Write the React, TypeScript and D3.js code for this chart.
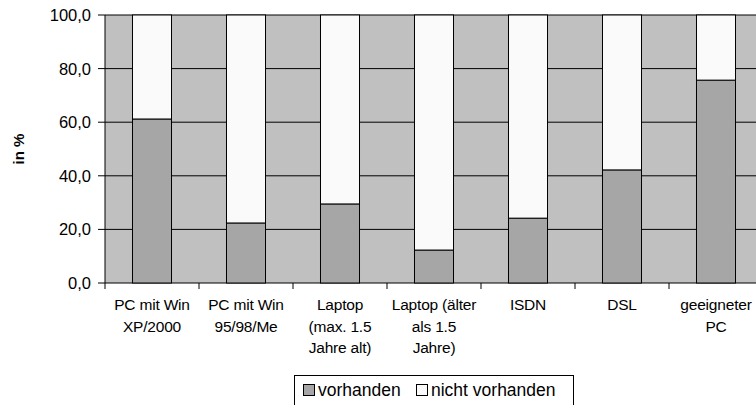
import React from 'react';
import * as d3 from 'd3';

const categories = [
  ['PC mit Win', 'XP/2000'],
  ['PC mit Win', '95/98/Me'],
  ['Laptop', '(max. 1.5', 'Jahre alt)'],
  ['Laptop (älter', 'als 1.5', 'Jahre)'],
  ['ISDN'],
  ['DSL'],
  ['geeigneter', 'PC'],
];
const vorhanden = [61.2, 22.4, 29.5, 12.3, 24.2, 42.2, 75.7];
const nichtVorhanden = vorhanden.map((v) => 100 - v);
const yTicks = [0, 20, 40, 60, 80, 100];

const W = 756;
const H = 405;
const left = 105;
const top = 15;
const bottom = 283;
const bandW = 94;

const App = () => {
  const x = d3
    .scaleBand<number>()
    .domain(categories.map((_, i) => i))
    .range([left, left + bandW * categories.length])
    .paddingInner(0.585)
    .paddingOuter(0.2925);
  const step = x.step();
  const y = d3.scaleLinear().domain([0, 100]).range([bottom, top]);
  const fmt = (v: number) => v.toFixed(1).replace('.', ',');
  const font = 'Liberation Sans, Arial, sans-serif';

  return (
    <svg width={W} height={H} style={{ position: 'absolute', left: 0, top: 0 }} fontFamily={font}>
      <rect x={0} y={0} width={W} height={H} fill="#fff" />
      <rect x={left} y={top} width={W - left} height={bottom - top} fill="#c0c0c0" />
      {yTicks.map((t) => (
        <g key={t}>
          <line x1={left - 7} x2={W} y1={y(t)} y2={y(t)} stroke="#000" strokeWidth={1} />
          <text x={91} y={y(t) + 6} textAnchor="end" fontSize={16.5}>
            {fmt(t)}
          </text>
        </g>
      ))}
      <line x1={left} x2={left} y1={top} y2={bottom} stroke="#000" />
      {categories.map((c, i) => {
        const bx = x(i)!;
        const cx = left + step * i + step / 2;
        return (
          <g key={i}>
            <line x1={left + step * i} x2={left + step * i} y1={bottom} y2={bottom + 6} stroke="#000" />
            <rect x={bx} y={y(vorhanden[i])} width={x.bandwidth()} height={bottom - y(vorhanden[i])} fill="#a6a6a6" stroke="#000" />
            <rect x={bx} y={y(100)} width={x.bandwidth()} height={y(vorhanden[i]) - y(100)} fill="#fafafa" stroke="#000" />
            {c.map((line, j) => (
              <text key={j} x={cx} y={310 + j * 21.5} textAnchor="middle" fontSize={15.5} letterSpacing={-0.2}>
                {line}
              </text>
            ))}
          </g>
        );
      })}
      <text transform={`translate(24,${(top + bottom) / 2}) rotate(-90)`} textAnchor="middle" fontSize={15} fontWeight="bold">
        in %
      </text>
      <rect x={294.5} y={375.5} width={279} height={40} fill="#fff" stroke="#000" />
      <rect x={303.5} y={384.5} width={11} height={11} fill="#a6a6a6" stroke="#000" />
      <text x={318} y={396} fontSize={17.5}>vorhanden</text>
      <rect x={416.5} y={384.5} width={11} height={11} fill="#fafafa" stroke="#000" />
      <text x={431} y={396} fontSize={17.5}>nicht vorhanden</text>
    </svg>
  );
};

export default App;
